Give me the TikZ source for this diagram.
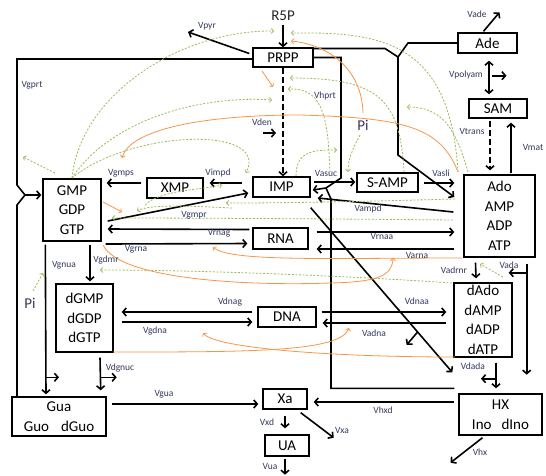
\documentclass[tikz,border=0pt]{standalone}
\usepackage{fontspec}
\setmainfont{Carlito}
\usetikzlibrary{arrows.meta,calc}

\definecolor{regreen}{RGB}{155,187,89}
\definecolor{reorange}{RGB}{247,150,70}
\definecolor{ratec}{RGB}{50,56,92}

\begin{document}
\begin{tikzpicture}[x=1pt,y=-1pt,
  every node/.style={inner sep=0pt},
  pool/.style={draw, line width=1.4pt, align=center,
    font=\fontsize{15}{19.5}\selectfont},
  met/.style={font=\fontsize{15}{18}\selectfont},
  rate/.style={font=\fontsize{9.5}{11}\selectfont, text=ratec},
  wire/.style={line width=1.6pt},
  flux/.style={wire, -{Straight Barb[length=3.5pt,width=8pt]}},
  dflux/.style={flux, dash pattern=on 6pt off 3pt},
  inhib/.style={regreen, line width=0.8pt, dash pattern=on 2pt off 1.6pt,
    -{Straight Barb[length=2.2pt,width=5pt]}},
  activ/.style={reorange, line width=0.8pt,
    -{Straight Barb[length=2.2pt,width=5pt]}},
]
\useasboundingbox (0,0) rectangle (546,475);

% pools
\node[pool, minimum width=60pt, minimum height=19pt] (prpp) at (283,57.5) {PRPP};
\node[pool, minimum width=59pt, minimum height=20pt] (ade) at (487.5,43) {Ade};
\node[pool, minimum width=58pt, minimum height=19pt] (sam) at (498,108.5) {SAM};
\node[pool, minimum width=56pt, minimum height=20pt] (xmp) at (175,188) {XMP};
\node[pool, minimum width=57pt, minimum height=20pt] (imp) at (281.5,187) {IMP};
\node[pool, minimum width=61pt, minimum height=19pt] (samp) at (387.5,182.5) {S-AMP};
\node[pool, minimum width=71pt, minimum height=82pt] (ado) at (499.5,216) {Ado\\AMP\\ADP\\ATP};
\node[pool, minimum width=58pt, minimum height=62pt] (gmp) at (72,210) {GMP\\GDP\\GTP};
\node[pool, minimum width=55pt, minimum height=21pt] (rna) at (280.5,238.5) {RNA};
\node[pool, minimum width=57pt, minimum height=68pt] (dgmp) at (84.5,318) {dGMP\\dGDP\\dGTP};
\node[pool, minimum width=58pt, minimum height=20pt] (dna) at (287,317) {DNA};
\node[pool, minimum width=58pt, minimum height=74pt] (dado) at (483,320) {dAdo\\dAMP\\dADP\\dATP};
\node[pool, minimum width=94pt, minimum height=39pt] (gua) at (59,416.5) {Gua\\Guo\hspace{12pt}dGuo};
\node[pool, minimum width=44pt, minimum height=20pt] (xa) at (285,399) {Xa};
\node[pool, minimum width=44pt, minimum height=21pt] (ua) at (287,445.5) {UA};
\node[pool, minimum width=83pt, minimum height=41pt] (hx) at (500.5,414.5) {HX\\Ino\hspace{10pt}dIno};

\node[met, text=black!85] (r5p) at (283,16) {R5P};
\node[met, text=ratec] (pia) at (363,125) {Pi};
\node[met, text=ratec] (pib) at (30,303) {Pi};

% junction points
\coordinate (gk) at (25,195);
\coordinate (aj) at (398,57);
\coordinate (ij) at (326,188);

% synthesis branch
\draw[flux, shorten <=4pt] (r5p.south) -- (prpp.north);
\draw[flux] ($(prpp.west)+(-3,-4)$) -- (188,32);
\draw[wire] ($(prpp.west)+(0,1.5)$) -| (17,185) -- (gk) -- (17,205) -- (17,396);
\draw[flux] (gk) -- ($(gk -| gmp.west)+(-1,0)$);
\draw[wire] (ade.west) -- (408,43) -- (aj);
\draw[wire] ($(prpp.east)+(0,-9)$) -- (385,48.5) -- (aj);
\draw[flux] (aj) -- (398,155) -- ($(ado.west)+(-9,-19)$);
\draw[wire] (prpp.east) -| (341,178) -- (ij);
\draw[wire] ($(hx.north west)+(-4,-5)$) -| (331,199) -- (ij);
\draw[flux] (ij) -- ($(imp.east)+(2,3)$);
\draw[dflux] (prpp.south) -- (prpp.south |- imp.north);
\draw[flux] (263,133) -- (276,133);

% guanine nucleotides
\draw[flux] ($(xmp.west)+(-5,-5)$) -- ($(gmp.east)+(5,-27)$);
\draw[flux] ($(imp.west)+(-10,-4)$) -- ($(xmp.east)+(6,-5)$);
\draw[flux] ($(gmp.east)+(6,11)$) -- ($(imp.west)+(-4,6)$);
\draw[flux] ($(rna.west)+(-3,-9)$) -- ($(gmp.east)+(6,19)$);
\draw[flux] ($(gmp.east)+(4,34)$) -- ($(rna.west)+(-5,5)$);
\draw[flux] ($(gmp.south)+(18,3)$) -- ($(dgmp.north)+(5.5,-2)$);
\draw[flux] ($(gmp.south west)+(3,3)$) -- ($(gua.north)+(-13,-2)$);
\draw[flux] ($(gua.north)+(-13,-19)$) -- ++(13,0);
\draw[flux] ($(dgmp.south)+(15.5,5)$) -- ($(gua.north east)+(-6,-6)$);
\draw[flux] ($(gua.north east)+(-6,-19)$) -- ++(16,0);
\draw[flux] ($(dna.west)+(-5,-5)$) -- ($(dgmp.east)+(8,-6)$);
\draw[flux] ($(dgmp.east)+(8,4)$) -- ($(dna.west)+(-5,5)$);
\draw[flux] ($(gua.east)+(5,-12.5)$) -- ($(xa.west)+(-4,5)$);

% degradation
\draw[flux] ($(hx.west)+(-4,-12.5)$) -- ($(xa.east)+(6,3)$);
\draw[flux] ($(xa.south)+(0,6)$) -- ($(ua.north)+(-2,-6)$);
\draw[flux] ($(xa.south east)+(-7,3)$) -- ++(33,25);
\draw[flux] ($(ua.south)+(-2,2)$) -- ++(0,16);
\draw[flux] ($(hx.south)+(-18,2)$) -- ++(-32,25);

% adenine nucleotides
\draw[flux] ($(imp.east)+(3,-5)$) -- ($(samp.west)+(-1,-0.5)$);
\draw[flux] ($(samp.east)+(5,0.5)$) -- ($(ado.west)+(-9,-33)$);
\draw[flux] ($(ado.west)+(-10,-4)$) -- ($(imp.east)+(7,11)$);
\draw[flux] ($(rna.east)+(8,-6.5)$) -- ($(ado.west)+(-9,16)$);
\draw[flux] ($(ado.west)+(-9,33)$) -- ($(rna.east)+(8,10.5)$);
\draw[flux] ($(imp.south east)+(0,10)$) -- coordinate[pos=0.755] (nucb) ($(hx.north west)+(-6,-21)$);
\draw[flux] (nucb) -- ++(-11,13);
\draw[flux] ($(ado.south)+(-24,5)$) -- ($(dado.north)+(-7,-4)$);
\draw[flux] ($(ado.south east)+(-9,6)$) -- ++(0,111);
\draw[flux] ($(ado.south east)+(-9,15)$) -- ++(-18,0);
\draw[flux] ($(dado.south)+(13,5)$) -- ($(hx.north)+(-4.5,-5)$);
\draw[flux] ($(dado.south)+(13,21)$) -- ++(-15,0);
\draw[flux] ($(dna.east)+(5,-5)$) -- ($(dado.west)+(-7,-8)$);
\draw[flux] ($(dado.west)+(-7,3)$) -- ($(dna.east)+(6,6)$);

% adenine and SAM
\draw[flux] ($(ade.north)+(-4,-1)$) -- ++(16,-19);
\draw[wire, {Straight Barb[length=3.5pt,width=8pt]}-{Straight Barb[length=3.5pt,width=8pt]}]
  ($(ade.south)+(1.5,7)$) -- ($(sam.north)+(-9,-4)$);
\draw[flux] ($(ade.south)+(4,22)$) -- ++(15,0);
\draw[dflux] ($(sam.south)+(-8,2)$) -- ($(ado.north)+(-9.5,-4)$);
\draw[flux] ($(ado.north)+(11.5,-1)$) -- ($(sam.south)+(13,4)$);

% regulation (green, dashed)
\draw[inhib] (72,178) .. controls (80,95) and (180,30) .. (274,31);
\draw[inhib] (72,178) .. controls (110,120) and (200,95) .. (272,100);
\draw[inhib] (72,178) .. controls (130,130) and (270,125) .. (246,173);
\draw[inhib] (55,173) -- (23,157);
\draw[inhib] (458,172) .. controls (450,40) and (380,32) .. (291,33);
\draw[inhib] (404,172) .. controls (400,100) and (380,78) .. (290,78);
\draw[inhib] (330,172) .. controls (328,110) and (320,88) .. (288,89);
\draw[inhib] (468,172) .. controls (455,125) and (440,107) .. (407,107);
\draw[inhib] (296,176) .. controls (296,150) and (315,150) .. (337,150);
\draw[inhib] (360,135) .. controls (352,150) and (348,160) .. (348,172);
\draw[inhib] (455,199) .. controls (380,201) and (300,203) .. (226,203);
\draw[inhib] (453,220) .. controls (350,219) and (200,218) .. (112,218);
\draw[inhib] (145,205) .. controls (160,190) and (200,190) .. (222,185);
\draw[inhib] (232,208) .. controls (190,206) and (150,204) .. (137,211);
\draw[inhib] (452,283) .. controls (350,276) and (200,270) .. (100,270);
\draw[inhib] (503,277) -- (480,264);
\draw[inhib] (33,291) -- (43,273);

% regulation (orange)
\draw[activ] (363,113) .. controls (362,70) and (330,45) .. (291,41);
\draw[activ] (262,71) -- (273,87);
\draw[activ] (458,172) .. controls (440,125) and (400,118) .. (300,115)
  .. controls (200,115) and (130,130) .. (122,158);
\draw[activ] (103,202) -- (122,212);
\draw[activ] (462,258) .. controls (330,258) and (230,262) .. (213,247);
\draw[activ] (103,245) .. controls (120,280) and (250,286) .. (330,283)
  .. controls (380,282) and (392,275) .. (393,258);
\draw[activ] (113,352) .. controls (250,352) and (340,352) .. (349,328);
\draw[activ] (455,357) .. controls (330,357) and (215,348) .. (203,333);

% rate labels
\node[rate] (vpyr) at (207,26) {Vpyr};
\node[rate] (vgprt) at (32,85) {Vgprt};
\node[rate] (vden) at (262,122) {Vden};
\node[rate] (vhprt) at (325,96) {Vhprt};
\node[rate] (vade) at (477,14) {Vade};
\node[rate] (vpolyam) at (466,75) {Vpolyam};
\node[rate] (vtrans) at (472,131) {Vtrans};
\node[rate] (vmat) at (533,147) {Vmat};
\node[rate] (vgmps) at (121,173) {Vgmps};
\node[rate] (vimpd) at (218,173) {Vimpd};
\node[rate] (vgmpr) at (194,215) {Vgmpr};
\node[rate] (vrnag) at (219,233) {Vrnag};
\node[rate] (vgrna) at (136,249) {Vgrna};
\node[rate] (vgnua) at (64,265) {Vgnua};
\node[rate] (vgdmr) at (106,260) {Vgdmr};
\node[rate] (vasuc) at (326,173) {Vasuc};
\node[rate] (vasli) at (441,173) {Vasli};
\node[rate] (vampd) at (368,209) {Vampd};
\node[rate] (vrnaa) at (382,236) {Vrnaa};
\node[rate] (varna) at (417,255) {Varna};
\node[rate] (vadrnr) at (454,270) {Vadrnr};
\node[rate] (vada) at (509,265) {Vada};
\node[rate] (vdnag) at (230,302) {Vdnag};
\node[rate] (vgdna) at (155,331) {Vgdna};
\node[rate] (vdnaa) at (417,301) {Vdnaa};
\node[rate] (vadna) at (374,333) {Vadna};
\node[rate] (vdgnuc) at (120,368) {Vdgnuc};
\node[rate] (vgua) at (164,394) {Vgua};
\node[rate] (vdada) at (473,366) {Vdada};
\node[rate] (vhxd) at (383,410) {Vhxd};
\node[rate] (vxd) at (267,422) {Vxd};
\node[rate] (vxa) at (342,430) {Vxa};
\node[rate] (vua) at (270,466) {Vua};
\node[rate] (vhx) at (480,452) {Vhx};

\end{tikzpicture}
\end{document}
